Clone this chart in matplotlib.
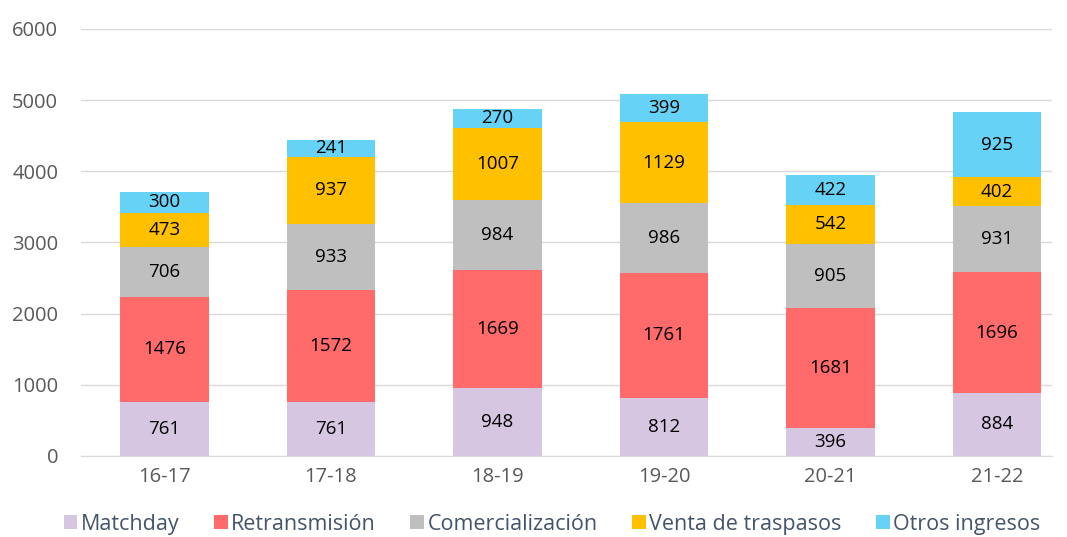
import numpy as np
import matplotlib.pyplot as plt

seasons = ["16-17", "17-18", "18-19", "19-20", "20-21", "21-22"]
matchday = [761, 761, 948, 812, 396, 884]
retransmision = [1476, 1572, 1669, 1761, 1681, 1696]
comercializacion = [706, 933, 984, 986, 905, 931]
traspasos = [473, 937, 1007, 1129, 542, 402]
otros = [300, 241, 270, 399, 422, 925]

series = [
    ("Matchday", matchday, "#D6C6E2"),
    ("Retransmisión", retransmision, "#FF6B6B"),
    ("Comercialización", comercializacion, "#BFBFBF"),
    ("Venta de traspasos", traspasos, "#FFC000"),
    ("Otros ingresos", otros, "#66D3F6"),
]

plt.rcParams['font.family'] = ['Open Sans', 'DejaVu Sans']

fig = plt.figure(figsize=(10.67, 5.37), dpi=100)
ax = fig.add_axes([0.076, 0.151, 0.910, 0.795])

x = np.arange(len(seasons))
bottom = np.zeros(len(seasons))
for name, vals, color in series:
    vals = np.array(vals)
    ax.bar(x, vals, 0.53, bottom=bottom, color=color, label=name, zorder=2)
    for xi, b, v in zip(x, bottom, vals):
        ax.text(xi, b + v / 2, str(v), ha="center", va="center",
                fontsize=13.5, color="black", zorder=3)
    bottom += vals

ax.set_xlim(-0.5, len(seasons) - 0.67)
ax.set_ylim(0, 6000)
ax.set_yticks(range(0, 6001, 1000))
ax.set_xticks(x)
ax.set_xticklabels(seasons)
ax.tick_params(axis="both", length=0, labelsize=14.5, colors="#595959", pad=8)
ax.tick_params(axis="y", pad=16.5)
ax.grid(axis="y", color="#D9D9D9", linewidth=1, zorder=0)
for s in ["top", "right", "left"]:
    ax.spines[s].set_visible(False)
ax.spines["bottom"].set_color("#D9D9D9")

leg = ax.legend(loc="lower center", bbox_to_anchor=(0.485, -0.23), ncol=5,
                frameon=False, fontsize=15.5, handlelength=0.65, handleheight=0.65,
                handletextpad=0.15, columnspacing=1.6)
for t in leg.get_texts():
    t.set_color("#44546A")

fig.savefig("out.png", dpi=100)
